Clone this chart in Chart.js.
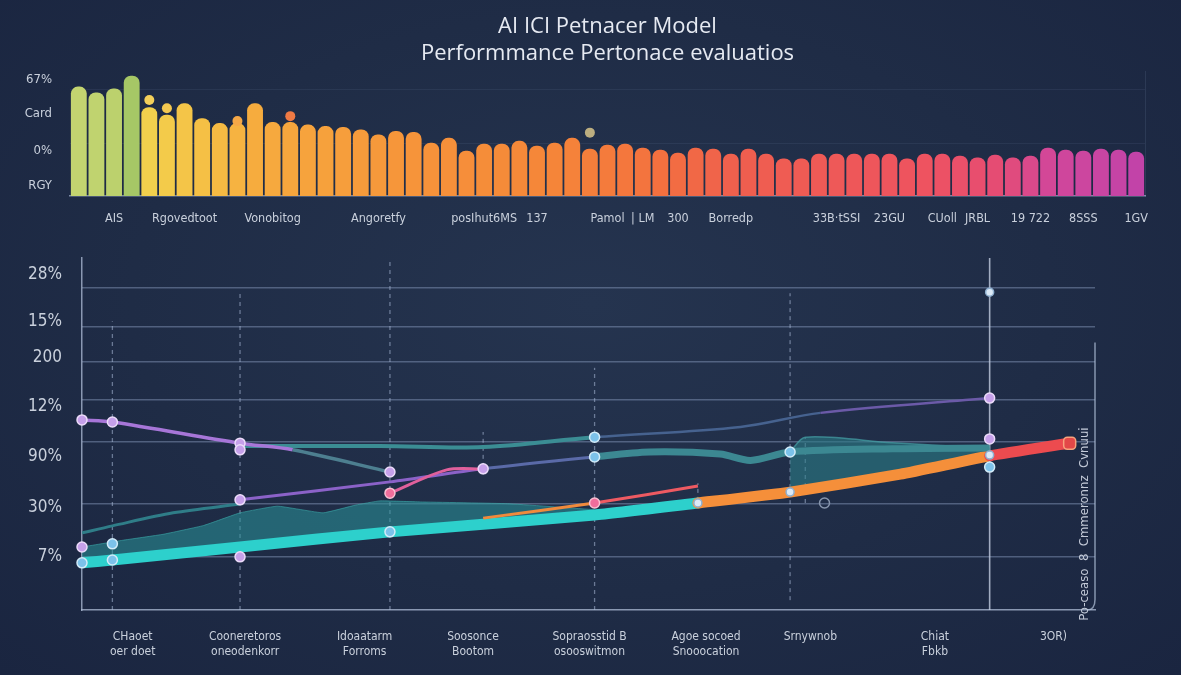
<!DOCTYPE html>
<html><head><meta charset="utf-8">
<script src="https://cdn.jsdelivr.net/npm/chart.js@4.4.1/dist/chart.umd.min.js"></script>
<style>
html,body{margin:0;padding:0;width:1181px;height:675px;overflow:hidden;
background:radial-gradient(ellipse at 50% 45%, #25344f 0%, #1f2c46 55%, #1a2540 100%);}
#top{position:absolute;left:0;top:0;width:1181px;height:230px;}
#bot{position:absolute;left:0;top:230px;width:1181px;height:445px;}
</style></head><body>
<div id="top"><canvas id="c1"></canvas></div>
<div id="bot"><canvas id="c2"></canvas></div>
<script>
// ---------- top bar chart data ----------
const titleLines = ['AI ICI Petnacer Model', 'Performmance Pertonace evaluatios'];
const barValues = [88.1,83.3,86.5,96.8,71.4,65.5,74.6,62.7,58.7,58.7,74.6,59.5,59.5,57.5,56.3,55.6,53.6,49.6,52.4,51.6,42.9,46.8,36.5,42.1,42.1,44.4,40.5,42.9,46.8,
38.1,41.3,42.1,38.9,37.3,34.9,38.9,38.1,34.1,38.1,34.1,30.2,30.2,34.1,34.1,34.1,34.1,34.1,30.2,34.1,34.1,32.5,31,33.3,31,32.5,38.9,37.3,36.5,38.1,37.3,35.7];
const barLabelIndex = [2, 6, 11, 17, 23, 26, 30, 32, 34, 37, 43, 46, 49, 51, 54, 57, 60];
const barLabelText = ['AIS','Rgovedtoot','Vonobitog','Angoretfy','posIhut6MS','137','Pamol','| LM','300','Borredp','33B·tSSI','23GU','CUoll','JRBL','19 722','8SSS','1GV'];
const barTickValues = [8.7, 36.5, 66.7, 94];
const barTickLabels = ['RGY', '0%', 'Card', '67%'];
const barGridValues = [42, 85.7];
const barDotIndex = [4, 5, 9, 12, 29];
const barDotValues = [77.3, 70.6, 60.3, 64.3, 51];

// ---------- bottom line chart data ----------
const lineTickValues = [15.3, 29, 43.5, 57.7, 71.6, 81.8, 95.2];
const lineTickLabels = ['7%', '30%', '90%', '12%', '200', '15%', '28%'];
const lineGridValues = [15.1, 30.1, 47.7, 59.7, 70.5, 80.4, 91.5];
const categoryPos = [5.0, 16.1, 27.9, 38.6, 50.1, 61.6, 71.9, 84.2, 95.9];
const categoryNames = [['CHaoet','oer doet'], ['Cooneretoros','oneodenkorr'], ['Idoaatarm','Forroms'], ['Soosonce','Bootom'], ['Sopraosstid B','osooswitmon'], ['Agoe socoed','Snooocation'], ['Srnywnob'], ['Chiat','Fbkb'], ['3OR)']];

const seriesAX = [0, 3, 15.6, 20.8, 30.4];
const seriesAY = [54.0, 53.4, 47.4, 45.5, 39.2];
const seriesBX = [15.6, 29.4, 39.6, 50.6, 65, 72.9, 89.6];
const seriesBY = [46.6, 46.6, 46.3, 49.1, 52, 56, 60.2];
const seriesCX = [15.6, 30.4, 39.6, 50.6, 56, 63, 66, 69.9, 80, 89.6];
const seriesCY = [31.3, 36.4, 40.1, 43.5, 44.9, 44.3, 42.5, 44.9, 45.8, 46];
const seriesDX = [30.4, 36, 39.6];
const seriesDY = [33.2, 39.8, 40.1];
const seriesEX = [39.6, 50.6, 60.8];
const seriesEY = [26.1, 30.4, 35.2];
const mainX = [0, 3, 15.6, 30.4, 50.6, 60.8, 69.9, 80.8, 89.6, 97.5];
const mainY = [13.4, 14.2, 17.9, 22.2, 27, 30.4, 33.5, 38.6, 43.8, 47.4];
const tealLineX = [0, 3, 9, 15.6];
const tealLineY = [21.9, 23.9, 27.6, 30.1];
const tealAreaX = [0, 4, 8, 12, 15.6, 19.3, 23.8, 27, 29.4, 33.4, 42, 50.6];
const tealAreaY = [17.9, 19.8, 21.5, 24, 27.6, 29.5, 27.6, 29.8, 31, 30.7, 30.2, 28.5];
const ribbonX = [69.9, 71.4, 80, 89.6];
const ribbonY = [44.9, 49.1, 47.5, 46];
const purpleDotX = [0, 3, 15.6, 15.6, 30.4, 39.6, 15.6, 0, 15.6, 89.6, 89.6];
const purpleDotY = [54, 53.4, 47.4, 45.5, 39.2, 40.1, 31.3, 17.9, 15.1, 60.2, 48.6];
const blueDotX = [3, 3, 50.6, 50.6, 69.9, 89.6, 30.4, 0];
const blueDotY = [18.8, 14.2, 49.1, 43.5, 44.9, 40.6, 22.2, 13.4];
const pinkDotX = [30.4, 50.6];
const pinkDotY = [33.2, 30.4];
const whiteDotX = [89.6, 69.9, 89.6, 60.8];
const whiteDotY = [90.3, 33.5, 44.0, 30.4];
const hollowDotX = [73.3];
const hollowDotY = [30.4];
const guideX = [3, 15.6, 30.4, 50.6, 69.9, 39.6, 60.8, 71.4];
const guideTop = [82, 90.3, 100, 68.8, 90, 50.6, 36, 49];
const guideBottom = [0, 0, 0, 0, 2.8, 38.4, 31, 30.4];
const solidGuideX = [89.6];
const solidGuideTop = [100];
const sideCaption = 'Po-ceaso  8  Cmmeronnz  Cvnuui';

// ---------- helpers ----------
const condensed = "'Liberation Sans Narrow','DejaVu Sans Condensed','Roboto',sans-serif";
const txt = '#c9d0dc';
function hex(h){h=h.replace('#','');return [0,2,4].map(i=>parseInt(h.slice(i,i+2),16));}
function ramp(stops, f){
  for(let i=0;i<stops.length-1;i++){
    const [f0,c0]=stops[i],[f1,c1]=stops[i+1];
    if(f<=f1){const t=(f-f0)/((f1-f0)||1);const a=hex(c0),b=hex(c1);
      return 'rgb('+a.map((v,k)=>Math.round(v+(b[k]-v)*t)).join(',')+')';}
  }
  return stops[stops.length-1][1];
}
const barStops = [[0,'#c3d470'],[0.034,'#bcd16d'],[0.05,'#a6c766'],[0.067,'#f2d04c'],[0.12,'#f5bf45'],[0.17,'#f6ab3e'],[0.3,'#f6963a'],[0.45,'#f58539'],[0.55,'#f3703f'],[0.62,'#ef5f4e'],[0.8,'#ee5360'],[0.87,'#e54c74'],[0.92,'#d2479a'],[1,'#c243a8']];
const barColors = barValues.map((v,i)=>ramp(barStops, i/(barValues.length-1)));
const barLabels = barValues.map(()=> '');
barLabelIndex.forEach((idx,k)=>{barLabels[idx]=barLabelText[k];});
const dotData = barValues.map(()=>null);
barDotIndex.forEach((idx,k)=>{dotData[idx]=barDotValues[k];});
const dotPalette = ['#f3cf5a','#f4c850','#f6a847','#f07a44','#bcae80'];
const dotColors = barValues.map(()=> 'transparent');
barDotIndex.forEach((idx,k)=>{dotColors[idx]=dotPalette[k];});

// ---------- top chart ----------
new Chart(document.getElementById('c1'), {
  type: 'bar',
  data: { labels: barLabels, datasets: [
    { type:'line', data: dotData, showLine:false, pointRadius:5, pointBackgroundColor:dotColors, pointBorderWidth:0, order:0, clip:false },
    { data: barValues, backgroundColor: barColors, borderRadius:{topLeft:7,topRight:7}, borderSkipped:'bottom', barPercentage:0.9, categoryPercentage:1.0, order:1 }
  ]},
  options: {
    responsive:true, maintainAspectRatio:false, animation:false,
    layout:{padding:{left:0,right:0,top:0,bottom:0}},
    plugins:{ legend:{display:false}, tooltip:{enabled:false},
      title:{display:true, fullSize:false, text:titleLines, color:'#e6eaf2', font:{family:"'Open Sans','Noto Sans',sans-serif", size:22, weight:'normal'}, lineHeight:1.15, padding:{top:14,bottom:5}}},
    scales:{
      x:{ type:'category', grid:{display:false}, border:{display:true,color:'rgba(140,155,185,0.85)',width:1.5},
          ticks:{autoSkip:false,maxRotation:0,minRotation:0,padding:7,color:txt,font:{family:condensed,size:12.5}},
          afterFit:s=>{s.height=34;} },
      y:{ min:0,max:100, position:'left', grid:{display:false}, border:{display:false},
          ticks:{padding:10,color:txt,font:{family:condensed,size:13},callback:(v,i)=>barTickLabels[i]},
          afterBuildTicks:s=>{s.ticks=barTickValues.map(v=>({value:v}));},
          afterFit:s=>{s.width=70;} },
      y2:{ min:0,max:100, position:'right', grid:{color:'rgba(140,160,200,0.10)',drawTicks:false}, border:{display:true,color:'rgba(140,160,200,0.14)'},
          ticks:{display:false},
          afterBuildTicks:s=>{s.ticks=barGridValues.map(v=>({value:v}));},
          afterFit:s=>{s.width=36;} }
    }
  }
});

// ---------- bottom chart ----------
const pts = (xs, ys) => xs.map((x,i)=>({x, y: ys[i]}));
const ds = [];
function add(d){ds.push(d);return ds.length-1;}
add({label:'purple', data:pts(purpleDotX,purpleDotY), showLine:false, pointRadius:5, pointBackgroundColor:'#c6a0ea', pointBorderColor:'#ecdcfa', pointBorderWidth:1.5, order:0, clip:false});
add({label:'blue', data:pts(blueDotX,blueDotY), showLine:false, pointRadius:5, pointBackgroundColor:'#7cc2ea', pointBorderColor:'#d3ecf9', pointBorderWidth:1.5, order:0, clip:false});
add({label:'pink', data:pts(pinkDotX,pinkDotY), showLine:false, pointRadius:5, pointBackgroundColor:'#f06e9c', pointBorderColor:'#f9c0d2', pointBorderWidth:1.5, order:0, clip:false});
add({label:'white', data:pts(whiteDotX,whiteDotY), showLine:false, pointRadius:4, pointBackgroundColor:'#dce9f6', pointBorderColor:'#8fb0d0', pointBorderWidth:1.5, order:0, clip:false});
add({label:'hollow', data:pts(hollowDotX,hollowDotY), showLine:false, pointRadius:5, pointBackgroundColor:'rgba(0,0,0,0)', pointBorderColor:'#8896ae', pointBorderWidth:1.5, order:0, clip:false});
add({label:'cap', data:[{x:mainX[mainX.length-1], y:mainY[mainY.length-1]}], showLine:false, pointStyle:'rectRounded', pointRadius:7, pointBackgroundColor:'#e34848', pointBorderColor:'#f7a27c', pointBorderWidth:1.5, order:0, clip:false});
add({label:'A', data:pts(seriesAX,seriesAY), borderWidth:3.5, tension:0.3, pointRadius:0, order:2,
  segment:{borderColor:c=>c.p0.parsed.x<18?'#a776d8':'#4d7f90'}});
add({label:'B', data:pts(seriesBX,seriesBY), borderWidth:3.5, tension:0.35, pointRadius:0, order:3,
  segment:{borderColor:c=>c.p0.parsed.x<50?'#3b8d94':(c.p0.parsed.x<72?'#46628f':'#6b5aa8'), borderWidth:c=>c.p0.parsed.x<50?4:2.5}});
add({label:'C', data:pts(seriesCX,seriesCY), borderWidth:3, tension:0.3, pointRadius:0, order:3,
  segment:{borderColor:c=>c.p0.parsed.x<39?'#8b62c8':(c.p0.parsed.x<50?'#5a6aa8':'#3c8892'), borderWidth:c=>c.p0.parsed.x<50?3:7}});
add({label:'D', data:pts(seriesDX,seriesDY), borderColor:'#e0609c', borderWidth:3, tension:0.3, pointRadius:0, order:2});
add({label:'E', data:pts(seriesEX,seriesEY), borderWidth:3, tension:0.2, pointRadius:0, order:2,
  segment:{borderColor:c=>c.p0.parsed.x<45?'#f08a3c':(c.p0.parsed.x<55?'#ee5a62':'#f38a4a')}});
add({label:'tealLine', data:pts(tealLineX,tealLineY), borderColor:'#2f7d88', borderWidth:3, tension:0.3, pointRadius:0, order:4});
const mainIdx = add({label:'main', data:pts(mainX,mainY), borderWidth:11, tension:0.15, pointRadius:0, borderCapStyle:'round', order:5,
  segment:{borderColor:c=>c.p0.parsed.x<60?'#2dd0cc':(c.p0.parsed.x<89?'#f58f3a':'#ec4b4f')}});
add({label:'tealArea', data:pts(tealAreaX,tealAreaY), borderColor:'rgba(60,170,170,0.6)', borderWidth:1, tension:0.1, pointRadius:0, fill:mainIdx, backgroundColor:'rgba(42,150,155,0.55)', order:7});
add({label:'ribbon', data:pts(ribbonX,ribbonY), borderColor:'rgba(70,160,165,0.7)', borderWidth:1.5, tension:0.3, pointRadius:0, fill:mainIdx, backgroundColor:'rgba(44,125,135,0.6)', order:7});
guideX.forEach((gx,i)=>add({label:'g'+i, data:[{x:gx,y:guideBottom[i]},{x:gx,y:guideTop[i]}], borderColor:'rgba(170,185,215,0.55)', borderWidth:1.3, borderDash:[4,4], pointRadius:0, order:9}));
solidGuideX.forEach((gx,i)=>add({label:'s'+i, data:[{x:gx,y:0},{x:gx,y:solidGuideTop[i]}], borderColor:'rgba(195,205,225,0.8)', borderWidth:1.6, pointRadius:0, order:9, clip:false}));

const sideNote = {
  id:'sideNote',
  afterDraw(chart){
    const {ctx, chartArea, scales} = chart; const y = scales.y;
    const x = chartArea.right;
    ctx.save();
    ctx.strokeStyle='rgba(180,195,220,0.7)'; ctx.lineWidth=1.5;
    ctx.beginPath(); ctx.moveTo(x, y.getPixelForValue(76)); ctx.lineTo(x, y.getPixelForValue(3));
    ctx.quadraticCurveTo(x, chartArea.bottom, x-8, chartArea.bottom); ctx.stroke();
    ctx.translate(x-10, y.getPixelForValue(24.4)); ctx.rotate(-Math.PI/2);
    ctx.fillStyle='#c3cad8'; ctx.font="13px "+condensed; ctx.textAlign='center'; ctx.textBaseline='middle';
    ctx.fillText(sideCaption,0,0);
    ctx.restore();
  }
};

new Chart(document.getElementById('c2'), {
  type:'line',
  data:{datasets:ds},
  plugins:[sideNote],
  options:{
    responsive:true, maintainAspectRatio:false, animation:false,
    layout:{padding:{left:0,right:0,top:28,bottom:0}},
    plugins:{legend:{display:false}, tooltip:{enabled:false}},
    scales:{
      x:{ type:'linear', min:0, max:100, grid:{display:false}, border:{display:true,color:'rgba(175,190,215,0.75)',width:1.5},
          ticks:{autoSkip:false,maxRotation:0,minRotation:0,padding:12,color:txt,font:{family:condensed,size:12},callback:(v,i)=>categoryNames[i]},
          afterBuildTicks:s=>{s.ticks=categoryPos.map(v=>({value:v}));},
          afterFit:s=>{s.height=65;} },
      y:{ min:0, max:100, position:'left', grid:{display:false}, border:{display:true,color:'rgba(175,190,215,0.75)',width:1.5},
          ticks:{padding:12,color:txt,font:{family:condensed,size:17},callback:(v,i)=>lineTickLabels[i]},
          afterBuildTicks:s=>{s.ticks=lineTickValues.map(v=>({value:v}));},
          afterFit:s=>{s.width=82;} },
      yg:{ min:0, max:100, position:'right', grid:{color:'rgba(150,170,205,0.42)',lineWidth:1.5,drawTicks:false}, border:{display:false},
          ticks:{display:false},
          afterBuildTicks:s=>{s.ticks=lineGridValues.map(v=>({value:v}));},
          afterFit:s=>{s.width=86;} }
    }
  }
});
</script>
</body></html>
